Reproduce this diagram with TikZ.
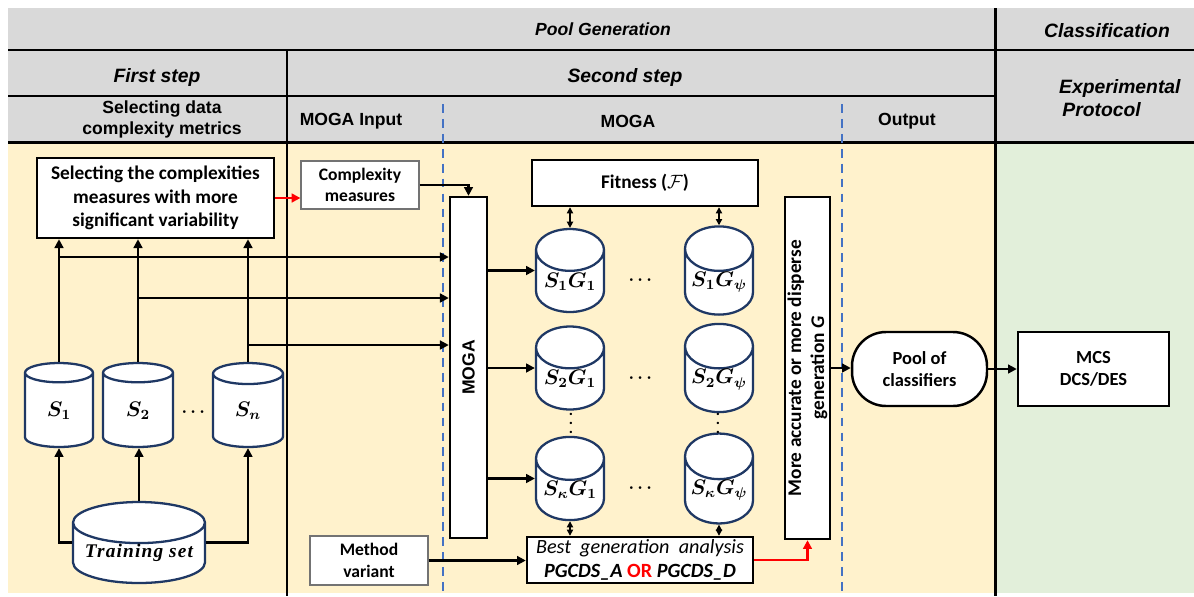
\documentclass[tikz,border=0pt]{standalone}
\usepackage{amsmath}
\usepackage{amssymb}
\usepackage{fontspec}
\setmainfont{Carlito}
\newfontfamily\hdfont{Liberation Sans}
\newfontfamily\tsfont[LetterSpace=6]{Liberation Serif}
\usepackage{xcolor}
\definecolor{pghead}{RGB}{217,217,217}
\definecolor{pgyellow}{RGB}{255,242,204}
\definecolor{pggreen}{RGB}{226,239,218}
\definecolor{pgnavy}{RGB}{31,56,100}
\definecolor{pgdash}{RGB}{68,114,196}
\usepackage{tikz}
\usetikzlibrary{arrows.meta, positioning, shapes.geometric, calc}

\begin{document}
\begin{tikzpicture}[x=0.02cm, y=-0.02cm,
  gridline/.style={line width=1.7pt},
  sepline/.style={pgdash, line width=1pt, dash pattern=on 5pt off 3.5pt},
  hdit/.style={font=\hdfont\bfseries\itshape\fontsize{11}{13}\selectfont},
  hdrm/.style={font=\hdfont\bfseries\fontsize{10}{12}\selectfont, align=center},
  thickbox/.style={draw, line width=1.4pt, fill=white, align=center, inner sep=2pt, font=\bfseries\fontsize{11}{13.3}\selectfont},
  thinbox/.style={draw=black!55, line width=0.7pt, fill=white, align=center, inner sep=2pt, font=\bfseries\fontsize{10}{12.3}\selectfont},
  dbcyl/.style={cylinder, shape border rotate=90, aspect=0.8, anchor=shape center, draw=pgnavy, line width=1.3pt, fill=white, inner sep=0pt, font=\boldmath\fontsize{11.5}{13}\selectfont},
  dotnode/.style={inner sep=0pt, font=\boldmath\fontsize{10}{12}\selectfont},
  vdotnode/.style={inner sep=0pt, align=center, font=\bfseries\fontsize{9}{4.9}\selectfont},
  arr/.style={line width=1.2pt, -{Triangle[length=5pt,width=5pt]}},
  dblarr/.style={line width=0.8pt, {Triangle[length=3.5pt,width=3.5pt]}-{Triangle[length=3.5pt,width=3.5pt]}},
  redarr/.style={red, line width=1.3pt, -{Triangle[length=5pt,width=5pt]}},
]
\useasboundingbox (0,0) rectangle (1194,596);

% background and table grid
\fill[pghead] (8,8) rectangle (1194,142);
\fill[pgyellow] (8,142) rectangle (995,593);
\fill[pggreen] (995,142) rectangle (1194,593);
\draw[gridline] (8,50) -- (1194,50);
\draw[gridline] (8,96) -- (995,96);
\draw[gridline] (8,142) -- (1194,142);
\draw[gridline] (995,8) -- (995,596);
\draw[gridline] (287,50) -- (287,596);
\draw[sepline] (443,104) -- (443,596);
\draw[sepline] (842,104) -- (842,596);

% headers
\node[hdit, font=\hdfont\bfseries\itshape\fontsize{10}{12}\selectfont] (hpool) at (603,29) {Pool Generation};
\node[hdit] (hclass) at (1107,31) {Classification};
\node[hdit] (hfirst) at (157,77) {First step};
\node[hdit] (hsecond) at (625,77) {Second step};
\node[hdrm] (hsel) at (162,119) {Selecting data\\complexity metrics};
\node[hdrm] (hinput) at (351,121) {MOGA Input};
\node[hdrm] (hmoga) at (628,121) {MOGA};
\node[hdrm] (hout) at (907,121) {Output};
\node[hdit, align=left, anchor=west] (hexp) at (1053,98) {Experimental\\\,Protocol};

% first step
\node[thickbox, minimum width=4.74cm, minimum height=1.6cm] (sel) at (155.5,198) {Selecting the complexities\\measures with more\\significant variability};
\node[dbcyl, minimum width=1.36cm, minimum height=1.68cm] (s1) at (59,405) {$S_1$};
\node[dbcyl, minimum width=1.4cm, minimum height=1.68cm] (s2) at (138,405) {$S_2$};
\node[dbcyl, minimum width=1.4cm, minimum height=1.68cm] (sn) at (248,405) {$S_n$};
\node[dotnode] (sdots) at (195,412) {$\cdots$};
\node[dbcyl, aspect=0.38, minimum width=2.64cm, minimum height=1.62cm, font=\tsfont\bfseries\itshape\fontsize{11}{13}\selectfont] (train) at (139,542.5) {Training set};

\coordinate (h1) at (0,257);
\coordinate (h2) at (0,298);
\coordinate (h3) at (0,345);

% second step
\node[thinbox, minimum width=2.36cm, minimum height=0.96cm] (cm) at (360,185) {Complexity\\measures};
\node[thinbox, minimum width=2.36cm, minimum height=0.98cm] (mv) at (369,560.5) {Method\\variant};
\node[thickbox, minimum width=0.74cm, minimum height=6.82cm] (moga) at (468.5,367.5) {};
\node[rotate=90, font=\hdfont\bfseries\fontsize{10}{11}\selectfont] (mogatxt) at (moga.center) {MOGA};
\node[thickbox, minimum width=4.52cm, minimum height=0.92cm] (fit) at (645,183) {Fitness ($\mathcal{F}$)};

\foreach \r/\y/\k in {1/270.5/1, 2/368/2, 3/478.5/\kappa} {
  \node[dbcyl, minimum width=1.36cm, minimum height=1.66cm] (g\r-1) at (570,\y) {$S_{\k}G_1$};
  \node[dbcyl, minimum width=1.36cm, minimum height=1.66cm] (g\r-2) at (719,\y) {$S_{\k}G_{\psi}$};
  \node[dotnode] (d\r) at (642,\y+10) {$\cdots$};
  \draw[arr] (moga.east |- g\r-1.shape center) -- (g\r-1.shape center -| g\r-1.west);
}
\node[vdotnode] (vd1) at (571,423.5) {.\\.\\.};
\node[vdotnode] (vd2) at (718,423.5) {.\\.\\.};

\node[thickbox, minimum width=4.52cm, minimum height=0.92cm, inner sep=1pt, font=\fontsize{11.5}{13.5}\selectfont] (best) at (640,560) {\itshape Best\ \ generation\ \ analysis\\{\bfseries\itshape PGCDS\_A \textcolor{red}{\upshape OR} PGCDS\_D}};
\node[thickbox, minimum width=0.9cm, minimum height=6.84cm] (acc) at (807.5,368) {};
\node[rotate=90, align=center, font=\bfseries\fontsize{11}{13}\selectfont] (acctxt) at (acc.center) {More accurate or more disperse\\generation \textit{G}};
\node[draw, line width=1.4pt, fill=white, rounded corners=0.68cm, minimum width=2.7cm, minimum height=1.48cm, align=center, font=\bfseries\fontsize{10.5}{12.5}\selectfont] (pool) at (919.5,369) {Pool of\\classifiers};
\node[thickbox, minimum width=3.02cm, minimum height=1.48cm, font=\bfseries\fontsize{10.5}{12.5}\selectfont] (mcs) at (1093.5,369) {MCS\\DCS/DES};

% connectors
\draw[arr] (s1.north) -- (s1.north |- sel.south);
\draw[arr] (s2.north) -- (s2.north |- sel.south);
\draw[arr] (sn.north) -- (sn.north |- sel.south);
\draw[arr] (s1.north |- h1) -- (moga.west |- h1);
\draw[arr] (s2.north |- h2) -- (moga.west |- h2);
\draw[arr] (sn.north |- h3) -- (moga.west |- h3);
\draw[arr] (train.shape center -| train.west) -| (s1.south);
\draw[arr] (train.north) -- (train.north |- s2.south);
\draw[arr] (train.shape center -| train.east) -| (sn.south);
\draw[redarr] (sel.east) -- (sel.east -| cm.west);
\draw[arr] (cm.east) -| (moga.north);
\draw[dblarr] (fit.south -| g1-1.north) -- (g1-1.north);
\draw[dblarr] (fit.south -| g1-2.north) -- (g1-2.north);
\draw[dblarr] (g3-1.south) -- (best.north -| g3-1.south);
\draw[dblarr] (g3-2.south) -- (best.north -| g3-2.south);
\draw[arr] (mv.east) -- (mv.east -| best.west);
\draw[redarr] (best.east) -| (acc.south);
\draw[arr] (acc.east) -- (acc.east -| pool.west);
\draw[arr] (pool.east) -- (mcs.west);
\end{tikzpicture}
\end{document}
